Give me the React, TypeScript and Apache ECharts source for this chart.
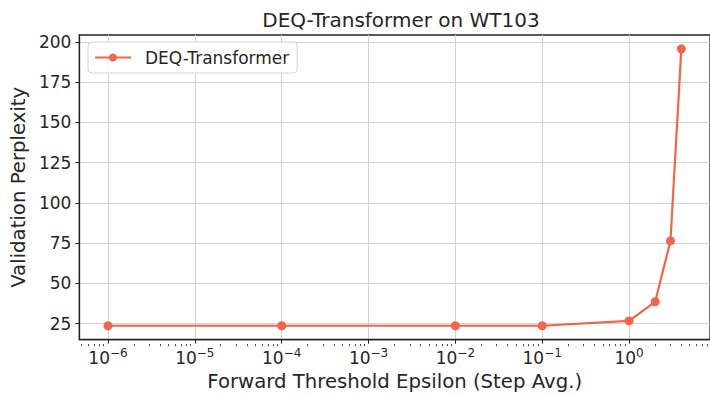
import React, { useEffect, useRef } from 'react';
import * as echarts from 'echarts';

// ---- data ----
const epsilons = [1e-6, 1e-4, 1e-2, 1e-1, 1, 2, 3, 4];
const perplexity = [23.6, 23.6, 23.6, 23.6, 26.6, 38.5, 76.3, 195.6];
const xMajorExponents = [-6, -5, -4, -3, -2, -1, 0];
const yTicks = [25, 50, 75, 100, 125, 150, 175, 200];
const chartTitle = 'DEQ-Transformer on WT103';
const seriesName = 'DEQ-Transformer';
const xName = 'Forward Threshold Epsilon (Step Avg.)';
const yName = 'Validation Perplexity';

const FONT = 'DejaVu Sans';
const COLOR = '#f26549';
const TEXT = '#262626';
const AXIS = '#222222';
const GRIDC = '#d3d3d3';

export default function App() {
  const ref = useRef<HTMLDivElement>(null);
  useEffect(() => {
    if (!ref.current) return;
    const chart = echarts.init(ref.current, null, { renderer: 'svg' });

    const lx = epsilons.map((e) => Math.log10(e));
    const lxMin = Math.min(...lx);
    const lxMax = Math.max(...lx);
    const xSpan = lxMax - lxMin;
    const xMin = lxMin - 0.05 * xSpan;
    const xMax = lxMax + 0.05 * xSpan;
    const yLo = Math.min(...perplexity);
    const yHi = Math.max(...perplexity);
    const ySpan = yHi - yLo;
    const yMin = yLo - 0.05 * ySpan;
    const yMax = yHi + 0.05 * ySpan;

    const minorExps: number[] = [];
    for (let e = Math.floor(xMin); e <= Math.ceil(xMax); e++) {
      for (let m = 2; m <= 9; m++) {
        const v = e + Math.log10(m);
        if (v >= xMin && v <= xMax) minorExps.push(v);
      }
    }

    const gridBox = { left: 79, top: 35, right: -4, bottom: 52 };

    chart.setOption({
      animation: false,
      backgroundColor: '#ffffff',
      textStyle: { fontFamily: FONT },
      title: {
        text: chartTitle,
        left: 396,
        top: 5,
        textAlign: 'center',
        textStyle: { fontSize: 20, fontWeight: 'normal', color: TEXT, fontFamily: FONT },
      },
      legend: {
        left: 88,
        top: 42,
        padding: [7, 8, 7, 6],
        backgroundColor: 'rgba(255,255,255,0.85)',
        borderColor: '#d4d4d4',
        borderWidth: 1,
        borderRadius: 4,
        itemWidth: 36,
        itemHeight: 10,
        textStyle: { fontSize: 17, color: TEXT, fontFamily: FONT, padding: [0, 0, 0, 9] },
        data: [seriesName],
      },
      grid: [
        { ...gridBox, show: true, borderColor: AXIS, borderWidth: 1.3, backgroundColor: 'transparent' },
        { ...gridBox },
      ],
      xAxis: [
        {
          type: 'value',
          gridIndex: 0,
          min: xMin,
          max: xMax,
          name: xName,
          nameLocation: 'middle',
          nameGap: 30,
          nameTextStyle: { fontSize: 19.7, color: TEXT, fontFamily: FONT },
          axisLine: { show: true, onZero: false, lineStyle: { color: AXIS, width: 1.3 } },
          axisTick: { show: true, customValues: xMajorExponents, length: 4, lineStyle: { color: AXIS, width: 1 } },
          axisLabel: {
            customValues: xMajorExponents,
            margin: 7,
            formatter: (v: number) => {
              const e = Math.round(v);
              const s = e < 0 ? '\u2212' + Math.abs(e) : String(e);
              return `{b|10}{s|${s}}`;
            },
            rich: {
              b: { fontSize: 17, fontFamily: FONT, color: TEXT, lineHeight: 22 },
              s: { fontSize: 12, fontFamily: FONT, color: TEXT, lineHeight: 12, verticalAlign: 'top' },
            },
          },
          splitLine: { show: true, lineStyle: { color: GRIDC, width: 1 } },
        },
        {
          type: 'value',
          gridIndex: 1,
          min: xMin,
          max: xMax,
          axisLine: { show: false, onZero: false },
          axisTick: { show: true, customValues: minorExps, length: 2.2, lineStyle: { color: AXIS, width: 0.8 } },
          axisLabel: { show: false },
          splitLine: { show: false },
        },
      ],
      yAxis: [
        {
          type: 'value',
          gridIndex: 0,
          min: yMin,
          max: yMax,
          name: yName,
          nameLocation: 'middle',
          nameGap: 48,
          nameTextStyle: { fontSize: 19.7, color: TEXT, fontFamily: FONT },
          axisLine: { show: true, onZero: false, lineStyle: { color: AXIS, width: 1.3 } },
          axisTick: { show: true, customValues: yTicks, length: 4, lineStyle: { color: AXIS, width: 1 } },
          axisLabel: { customValues: yTicks, margin: 8, fontSize: 17, color: TEXT, fontFamily: FONT },
          splitLine: { show: true, lineStyle: { color: GRIDC, width: 1 } },
        },
        { type: 'value', gridIndex: 1, min: 0, max: 1, show: false },
      ],
      series: [
        {
          type: 'line',
          name: seriesName,
          xAxisIndex: 0,
          yAxisIndex: 0,
          data: epsilons.map((e, i) => [Math.log10(e), perplexity[i]]),
          symbol: 'circle',
          symbolSize: 9,
          showSymbol: true,
          lineStyle: { color: COLOR, width: 2.2 },
          itemStyle: { color: COLOR },
          z: 5,
        },
      ],
    });
    return () => chart.dispose();
  }, []);
  return (
    <div
      ref={ref}
      style={{ position: 'fixed', left: 0, top: 0, width: 710, height: 396, background: '#fff' }}
    />
  );
}
